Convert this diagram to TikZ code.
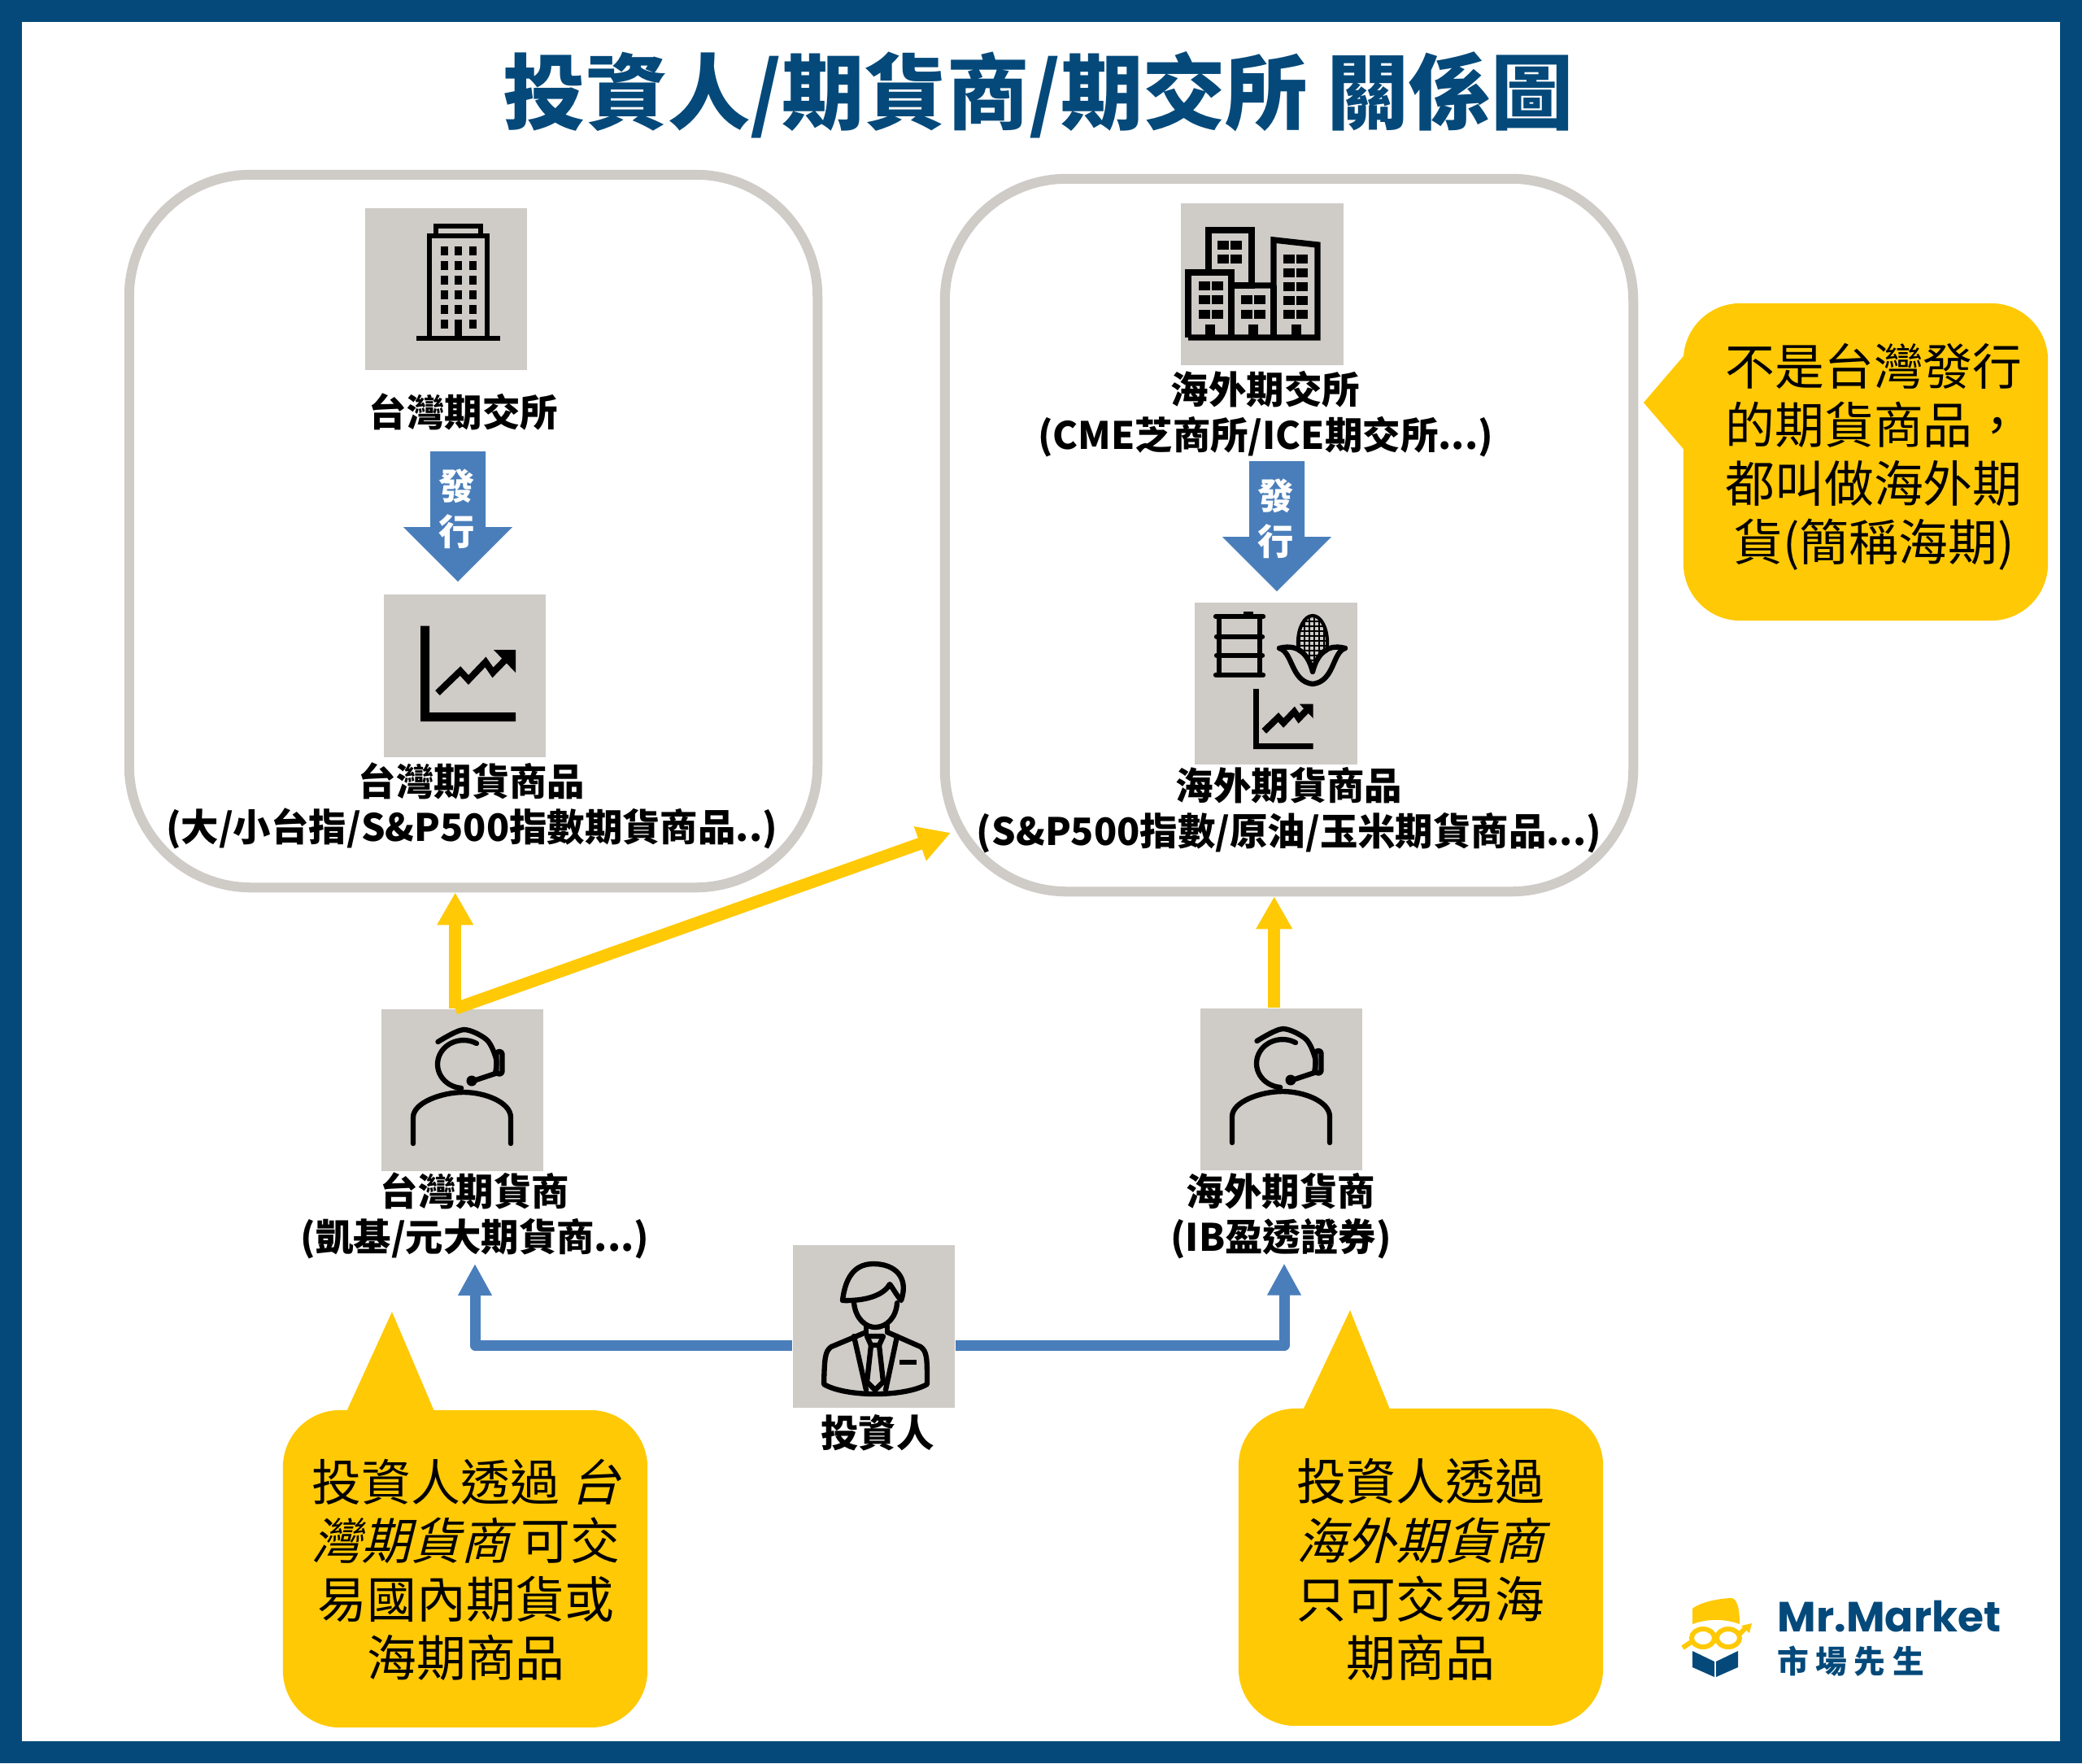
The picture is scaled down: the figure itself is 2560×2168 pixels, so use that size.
\documentclass[tikz,border=0pt]{standalone}
\usepackage{fontspec}
\setmainfont{Noto Sans CJK TC}
\newfontfamily\slantcjk[FakeSlant=0.25]{Noto Sans CJK TC}
\newfontfamily\logofont{Poppins}[BoldFont=* Bold]
\usetikzlibrary{positioning}
\usetikzlibrary{arrows.meta}
\usetikzlibrary{calc}
\definecolor{mrnavy}{HTML}{04497A}
\definecolor{mryellow}{HTML}{FFC905}
\definecolor{mrblue}{HTML}{4A7EBB}
\definecolor{mrgrey}{HTML}{CFCBC7}
\tikzset{
    marketbox/.style={draw=mrgrey, line width=0.12cm, rounded corners=1.5cm, minimum width=8.46cm, minimum height=8.76cm},
    iconbox/.style={fill=mrgrey, minimum width=1.99cm, minimum height=1.99cm, inner sep=0pt},
    namelabel/.style={inner sep=0pt, align=center, font=\bfseries\fontsize{13.2}{15.9}\selectfont},
    callout/.style={fill=mryellow, rounded corners=0.7cm, minimum width=4.48cm, minimum height=3.9cm, inner sep=0pt},
    notetext/.style={inner sep=0pt, align=center, font=\fontsize{17.3}{20.5}\selectfont},
    yarrow/.style={draw=mryellow, line width=0.15cm, -{Triangle[length=0.4cm,width=0.42cm]}},
    barrow/.style={draw=mrblue, line width=0.13cm, line join=round, -{Triangle[length=0.39cm,width=0.39cm]}},
    iconline/.style={line width=1.8pt, line join=round, line cap=round},
    issuearrow/.pic={
        \fill[mrblue] (-34,0) -- (34,0) -- (34,93) -- (67,93) -- (0,160) -- (-67,93) -- (-34,93) -- cycle;
        \node[text=white, inner sep=0pt, font=\bfseries\fontsize{12.6}{14}\selectfont] (-fa) at (-1,43) {發};
        \node[text=white, inner sep=0pt, font=\bfseries\fontsize{12.6}{14}\selectfont] (-xing) at (-1,99) {行};
    },
    headset/.pic={
        \draw[iconline] (17.5,-57.5) arc [start angle=-60, end angle=-265, x radius=32, y radius=29.5];
        \draw[iconline] plot[smooth] coordinates {(-30,-59.5) (1.5,-74.5) (30,-62) (41.5,-38.5) (40.5,-20.5)};
        \draw[iconline, rounded corners=0.03cm] (42,-47.5) rectangle (49,-20);
        \draw[iconline] (40.5,-20.5) -- (13.5,-11.5);
        \fill (11.5,-11.5) circle [radius=0.065cm];
        \draw[iconline] (-60.5,65.5) -- (-60.5,33.5) .. controls (-60.5,15) and (-25,2.5) .. (1.5,2.5) .. controls (28,2.5) and (59.5,15) .. (59.5,33.5) -- (59.5,65.5);
    },
    trendchart/.pic={
        \fill (0,0) -- (11,0) -- (11,106.5) -- (117,106.5) -- (117,117.5) -- (0,117.5) -- cycle;
        \draw[line width=2.3pt] (21,82.5) -- (49,55.5) -- (59,66.5) -- (80,44.5) -- (89,57.5) -- (108,38);
        \fill (90,29.5) -- (117,29.5) -- (117,57.5) -- cycle;
    }
}
\begin{document}
\begin{tikzpicture}[x=0.01cm, y=-0.01cm]
    \useasboundingbox (0,0) rectangle (2560,2168);
    \fill[mrnavy] (0,0) rectangle (2560,2168);
    \fill[white] (27,27) rectangle (2533,2141);

    \node[inner sep=0pt, text=mrnavy, font=\bfseries\fontsize{28.8}{32}\selectfont] (title) at (1277,117) {投資人/期貨商/期交所 關係圖};

    \node[marketbox] (twbox) at (582,653) {};
    \node[marketbox] (osbox) at (1585,658) {};

    \node[iconbox] (twexchange) at (548.5,355.5) {};
    \node[iconbox] (osexchange) at (1552,349.5) {};
    \node[iconbox] (twgoods) at (571.5,831) {};
    \node[iconbox] (osgoods) at (1569,840.5) {};
    \node[iconbox] (twdealer) at (568.5,1340.5) {};
    \node[iconbox] (osdealer) at (1575.5,1339.5) {};
    \node[iconbox] (investor) at (1074.5,1631) {};

    \node[namelabel] (twexchangename) at (570,506) {台灣期交所};
    \node[namelabel] (osexchangename) at (1556,509) {海外期交所\\(CME芝商所/ICE期交所...)};
    \node[namelabel] (twgoodsname) at (580,991) {台灣期貨商品\hspace{4.5pt}\\(大/小台指/S\&P500指數期貨商品..)};
    \node[namelabel] (osgoodsname) at (1585,996) {海外期貨商品\\(S\&P500指數/原油/玉米期貨商品...)};
    \node[namelabel] (twdealername) at (584,1495) {台灣期貨商\\(凱基/元大期貨商...)};
    \node[namelabel] (osdealername) at (1575,1495) {海外期貨商\\(IB盈透證券)};
    \node[namelabel] (investorname) at (1079,1762) {投資人};

    \pic (twissue) at (563,555) {issuearrow};
    \pic (osissue) at (1570,567) {issuearrow};

    \coordinate (osentry) at (1169,1024);
    \draw[yarrow] (twdealer.95) -- (twdealer.95 |- twbox.south);
    \draw[yarrow] (twdealer.95) -- (osentry);
    \draw[yarrow] (osdealer.95) -- (osdealer.95 |- osbox.south);
    \draw[barrow] (investor.193) -| ([yshift=-0.05cm]twdealername.south);
    \draw[barrow] (investor.347) -| ([xshift=0.04cm, yshift=-0.05cm]osdealername.south);

    \fill[mryellow] (2021,495) -- (2075,432) -- (2075,558) -- cycle;
    \node[callout] (rightnote) at (2294,568) {};
    \node[notetext] (rightnotetext) at (2304,562) {不是台灣發行\\的期貨商品，\\都叫做海外期\\貨(簡稱海期)};
    \fill[mryellow] (482,1613) -- (424,1740) -- (536,1740) -- cycle;
    \node[callout] (leftnote) at (572,1929) {};
    \node[notetext] (leftnotetext) at (573,1930) {投資人透過 {\slantcjk 台}\\{\slantcjk 灣期貨商} 可交\\易國內期貨或\\海期商品};
    \fill[mryellow] (1660,1611) -- (1600,1738) -- (1711,1738) -- cycle;
    \node[callout] (midnote) at (1747,1927) {};
    \node[notetext] (midnotetext) at (1747,1930) {投資人透過\\{\slantcjk 海外期貨商}\\只可交易海\\期商品};

    % single tower
    \fill (512,413) rectangle (615,419);
    \draw[line width=1.5pt] (528,414) -- (528,290) -- (599,290) -- (599,414);
    \draw[line width=1.5pt] (536,290) -- (536,278) -- (591,278) -- (591,290);
    \foreach \wy in {303,321,339,357,375,393}
        \foreach \wx in {542,559,577}
            \fill (\wx,\wy) rectangle +(9,11);
    \fill (559,393) rectangle (568,416);

    % city block
    \draw[line width=2.1pt] (1461,415) -- (1461,335) -- (1514,335) -- (1514,415);
    \draw[line width=2.1pt] (1486,335) -- (1486,283) -- (1539,283) -- (1539,351) -- (1514,351);
    \draw[line width=2.1pt] (1539,351) -- (1566,351) -- (1566,295) -- (1620,301) -- (1620,415) -- (1461,415);
    \draw[line width=2.1pt] (1566,351) -- (1566,415);
    \foreach \wx in {1497,1513}
        \foreach \wy in {296,313}
            \fill (\wx,\wy) rectangle +(14,11);
    \foreach \wx in {1474,1490}
        \foreach \wy in {346,363,381}
            \fill (\wx,\wy) rectangle +(14,11);
    \foreach \wx in {1526,1542}
        \foreach \wy in {363,381}
            \fill (\wx,\wy) rectangle +(14,11);
    \foreach \wx in {1578,1594}
        \foreach \wy in {313,330,347,364,381}
            \fill (\wx,\wy) rectangle +(14,11);
    \foreach \wx in {1482,1535,1588}
        \fill (\wx,399) rectangle +(12,17);

    \pic at (517,769.5) {trendchart};
    \pic[scale=0.63] at (1541,847) {trendchart};

    % barrel
    \draw[iconline] (1495,758) -- (1553,758);
    \draw[iconline] (1495,830) -- (1553,830);
    \draw[iconline] (1499,758) -- (1499,830);
    \draw[iconline] (1549,758) -- (1549,830);
    \draw[iconline] (1496,783) -- (1552,783);
    \draw[iconline] (1496,806) -- (1552,806);
    \fill (1529,752) rectangle (1541,757);

    % corn
    \begin{scope}
        \clip (1614,790) ellipse [x radius=18, y radius=33];
        \foreach \cy in {758,764,...,824}
            \draw[line width=0.5pt] (1590,\cy) -- (1640,\cy);
        \foreach \cx in {1598,1604,...,1632}
            \draw[line width=0.5pt] (\cx,755) -- (\cx,825);
    \end{scope}
    \draw[iconline, line width=1.2pt] (1614,790) ellipse [x radius=18, y radius=33];
    \fill[mrgrey] (1575,797) .. controls (1600,797) and (1610,815) .. (1614,825) .. controls (1618,815) and (1628,797) .. (1653,797) .. controls (1640,825) and (1630,842) .. (1614,842) .. controls (1598,842) and (1588,825) .. (1575,797);
    \draw[iconline] (1573,797) .. controls (1600,790) and (1610,810) .. (1614,826) .. controls (1618,810) and (1628,790) .. (1654,797);
    \draw[iconline] (1573,797) .. controls (1590,802) and (1587,838) .. (1614,841) .. controls (1641,838) and (1638,802) .. (1654,797);

    \pic at (568.5,1340.5) {headset};
    \pic at (1575.5,1339.5) {headset};

    % investor
    \draw[iconline] (1036,1599) .. controls (1040,1565) and (1055,1554) .. (1074,1554) .. controls (1100,1554) and (1118,1570) .. (1108,1599) .. controls (1102,1592) and (1098,1584) .. (1094,1579) .. controls (1088,1590) and (1070,1600) .. (1036,1599);
    \draw[iconline] (1050,1602) .. controls (1052,1622) and (1065,1632) .. (1076,1632) .. controls (1090,1632) and (1102,1620) .. (1103,1602);
    \draw[iconline] (1065,1632) -- (1065,1640);
    \draw[iconline] (1091,1630) -- (1091,1638);
    \draw[iconline] (1065,1638) -- (1022,1656) .. controls (1014,1662) and (1014,1670) .. (1013,1702) .. controls (1040,1718) and (1112,1718) .. (1140,1702) .. controls (1140,1670) and (1140,1662) .. (1132,1656) -- (1091,1638);
    \draw[iconline] (1050,1643) -- (1065,1709);
    \draw[iconline] (1103,1643) -- (1089,1709);
    \draw[iconline] (1066,1643) -- (1086,1643) -- (1081,1654) -- (1071,1654) -- cycle;
    \draw[iconline] (1071,1654) -- (1066,1699) -- (1076,1709) -- (1086,1699) -- (1081,1654);
    \fill (1106,1672) rectangle (1127,1678);

    % logo
    \fill[mryellow] (2081,1997) -- (2081,1978) .. controls (2090,1970) and (2115,1965) .. (2130,1965) .. controls (2138,1968) and (2139,1985) .. (2139,1997) .. controls (2120,1990) and (2100,1990) .. (2081,1997);
    \draw[mryellow, line width=1.7pt] (2094,2014) ellipse [x radius=14, y radius=11];
    \draw[mryellow, line width=1.7pt] (2125,2014) ellipse [x radius=14, y radius=11];
    \draw[mryellow, line width=1.7pt] (2069,2026) -- (2081,2018);
    \draw[mryellow, line width=1.7pt] (2138,2010) -- (2148,2000);
    \fill[mryellow] (2141,1999) -- (2154,1996) -- (2151,2008) -- cycle;
    \fill[mrnavy] (2081,2030) -- (2108,2043) -- (2108,2062) -- (2081,2050) -- cycle;
    \fill[mrnavy] (2137,2030) -- (2110,2043) -- (2110,2062) -- (2137,2050) -- cycle;
    \node[anchor=base west, inner sep=0pt, text=mrnavy, font=\logofont\bfseries\fontsize{14.75}{18}\selectfont] (logoname) at (2185,2006) {Mr.Market};
    \node[anchor=base west, inner sep=0pt, text=mrnavy, font=\bfseries\fontsize{11}{13}\selectfont] (logocjk) at (2185,2057) {市\hspace{2.4pt}場\hspace{2.4pt}先\hspace{2.4pt}生};
\end{tikzpicture}
\end{document}
